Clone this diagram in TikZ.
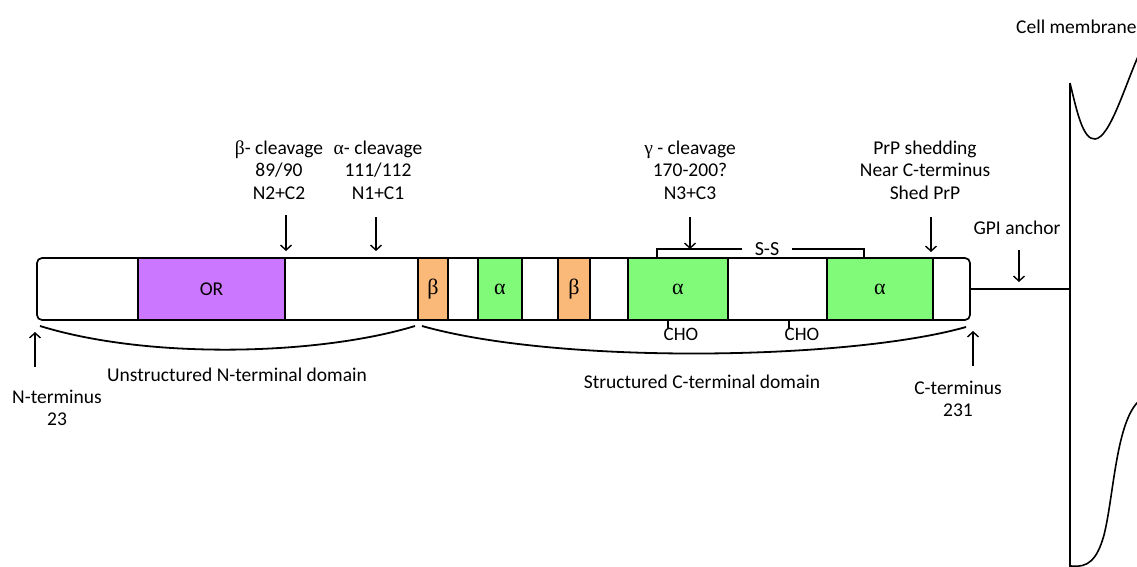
\documentclass[tikz,border=0pt]{standalone}
\usepackage{fontspec}
\setmainfont{Carlito}
\newfontfamily\grk{Liberation Serif}
\usetikzlibrary{arrows.meta}
\definecolor{orp}{RGB}{204,119,255}
\definecolor{bor}{RGB}{250,185,120}
\definecolor{agr}{RGB}{128,250,120}
\begin{document}
\begin{tikzpicture}[x=1pt,y=-1pt,
  lbl/.style={font=\fontsize{19.5}{22.5}\selectfont, align=center, inner sep=0pt},
  seg/.style={draw, line width=1.5pt, minimum height=62pt, inner sep=0pt, font=\fontsize{19.5}{22}\selectfont},
  arr/.style={-{Straight Barb[length=5pt,width=11pt]}, line width=1.4pt},
  thin/.style={line width=1.6pt}]
\useasboundingbox (0,0) rectangle (1137,567);
\begin{scope}
\clip (0,0) rectangle (1137,567);
% bar
\draw[line width=1.7pt, rounded corners=5pt, fill=white] (37,258) rectangle (970,320);
\node[seg, fill=orp, minimum width=147pt] (OR) at (211.5,289) {OR};
\node[seg, fill=bor, minimum width=30pt] (b1) at (433,289) {\grk\fontsize{22}{22}\selectfont β};
\node[seg, fill=agr, minimum width=44pt] (a1) at (500,289) {\grk\fontsize{22}{22}\selectfont α};
\node[seg, fill=bor, minimum width=32pt] (b2) at (574,289) {\grk\fontsize{22}{22}\selectfont β};
\node[seg, fill=agr, minimum width=100pt] (a2) at (678,289) {\grk\fontsize{22}{22}\selectfont α};
\node[seg, fill=agr, minimum width=106pt] (a3) at (880,289) {\grk\fontsize{22}{22}\selectfont α};
\coordinate (barR) at (970,289);
% membrane
\coordinate (memTop) at (1070,83);
\coordinate (memBot) at (1070,567);
\coordinate (gpi) at (1070,289);
\draw[thin] (memTop) -- (memBot);
\draw[thin] (memTop) .. controls (1077,112) and (1083,140) .. (1095,139)
   .. controls (1110,138) and (1125,85) .. (1140,52);
\draw[thin] (1071,566) .. controls (1088,568) and (1097,560) .. (1104,535)
   .. controls (1114,495) and (1116,420) .. (1140,400);
\draw[thin] (barR) -- (gpi);
\end{scope}
\node[lbl, anchor=west] (cm) at (1016,27) {Cell membrane};
% labels above
\node[lbl] (bcl) at (279,170) {{\grk β}- cleavage\\89/90\\N2+C2};
\node[lbl] (acl) at (378,170) {{\grk α}- cleavage\\111/112\\N1+C1};
\node[lbl] (gcl) at (690,170) {{\grk γ} - cleavage\\170-200?\\N3+C3};
\node[lbl] (shed) at (925,170) {PrP shedding\\Near C-terminus\\Shed PrP};
\node[lbl] (gpit) at (1017,228) {GPI anchor};
\coordinate (bcT) at (286,251);
\coordinate (acT) at (376,251);
\coordinate (gcT) at (690,249);
\coordinate (shT) at (931,252);
\coordinate (gpT) at (1019,282);
\draw[arr] (bcT |- 0,215) -- (bcT);
\draw[arr] (acT |- 0,217) -- (acT);
\draw[arr] (gcT |- 0,217) -- (gcT);
\draw[arr] (shT |- 0,217) -- (shT);
\draw[arr] (gpT |- 0,250) -- (gpT);
% S-S bracket
\node[lbl, font=\fontsize{20}{20}\selectfont] (ss) at (767,249) {S-S};
\draw[thin] (742,249) -- (657,249) -- (657,258);
\draw[thin] (792,249) -- (864,249) -- (864,258);
% CHO
\node[lbl, font=\fontsize{19}{20}\selectfont] (cho1) at (681,334) {CHO};
\node[lbl, font=\fontsize{19}{20}\selectfont] (cho2) at (802,334) {CHO};
\draw[thin] (668,320) -- (668,328);
\draw[thin] (789,320) -- (789,328);
% braces
\draw[line width=1.8pt] (40,326) .. controls (150,360) and (320,355) .. (415,326);
\draw[line width=1.8pt] (422,326) .. controls (560,365) and (850,360) .. (966,327);
\node[lbl] (ud) at (237,375) {Unstructured N-terminal domain};
\node[lbl] (sd) at (702,382) {Structured C-terminal domain};
% termini
\node[lbl] (nt) at (57,408) {N-terminus\\23};
\node[lbl] (ct) at (958,399) {C-terminus\\231};
\coordinate (ntT) at (35,332);
\coordinate (ctT) at (973,331);
\draw[arr] (ntT |- 0,367) -- (ntT);
\draw[arr] (ctT |- 0,366) -- (ctT);
\end{tikzpicture}
\end{document}
